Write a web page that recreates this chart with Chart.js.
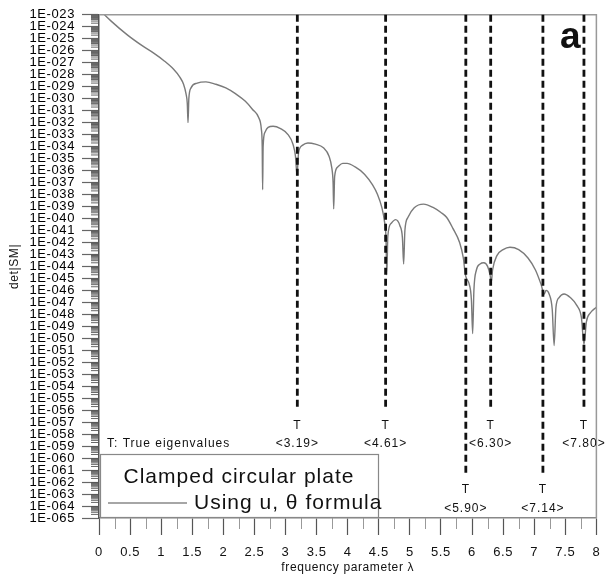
<!DOCTYPE html>
<html>
<head>
<meta charset="utf-8">
<script src="https://cdn.jsdelivr.net/npm/chart.js@4.4.1/dist/chart.umd.min.js"></script>
<style>
  html, body { margin: 0; padding: 0; background: #fff; }
  #wrap { width: 610px; height: 579px; }
</style>
</head>
<body>
<div id="wrap"><canvas id="c" width="610" height="579"></canvas></div>
<script>
// frequency parameter (lambda)
const lambda = [
  0.00, 0.20, 0.46, 0.70, 0.88, 1.05, 1.20, 1.30, 1.36, 1.40, 1.42, 1.432, 1.445, 1.48, 1.58,
  1.72, 1.88, 2.04, 2.20, 2.35, 2.47, 2.57, 2.61, 2.625, 2.632, 2.64, 2.67, 2.72, 2.80, 2.92,
  3.04, 3.12, 3.16, 3.185, 3.21, 3.27, 3.36, 3.48, 3.61, 3.70, 3.745, 3.765, 3.775, 3.79, 3.84,
  3.92, 3.99, 4.12, 4.27, 4.40, 4.48, 4.55, 4.59, 4.615, 4.63, 4.645, 4.70, 4.77, 4.84, 4.88,
  4.90, 4.92, 4.97, 5.07, 5.22, 5.38, 5.50, 5.59, 5.69, 5.80, 5.86, 5.89, 5.91, 5.95, 5.99,
  6.01, 6.03, 6.07, 6.13, 6.19, 6.25, 6.29, 6.31, 6.33, 6.40, 6.50, 6.61, 6.75, 6.90, 7.02,
  7.11, 7.16, 7.19, 7.24, 7.29, 7.32, 7.35, 7.40, 7.48, 7.58, 7.69, 7.76, 7.80, 7.84, 7.90,
  8.00
];
// log10 of det|SM| at each lambda
const logDet = [
  -22.55, -23.55, -24.70, -25.60, -26.20, -26.85, -27.55, -28.20, -28.80, -29.60, -30.40, -32.00, -30.00, -29.10, -28.70,
  -28.60, -28.80, -29.10, -29.60, -30.20, -30.90, -31.60, -32.50, -34.00, -37.60, -34.00, -32.80, -32.40, -32.30, -32.50,
  -33.00, -33.80, -34.80, -36.40, -34.50, -33.90, -33.70, -33.80, -34.10, -34.80, -35.80, -37.00, -39.20, -36.50, -35.70,
  -35.40, -35.40, -35.70, -36.30, -37.20, -38.00, -39.10, -40.20, -41.50, -44.70, -41.50, -40.40, -40.10, -40.60, -41.60,
  -43.80, -41.00, -39.90, -39.10, -38.80, -39.10, -39.50, -39.90, -40.80, -42.00, -43.30, -44.60, -45.00, -45.40, -46.80,
  -49.60, -46.00, -44.30, -43.80, -43.70, -44.00, -44.70, -45.30, -44.30, -43.10, -42.60, -42.40, -42.60, -43.30, -44.30,
  -45.50, -46.30, -46.00, -46.30, -47.60, -50.60, -47.40, -46.60, -46.30, -46.60, -47.30, -48.30, -50.50, -48.60, -47.90,
  -47.40
];

// true eigenvalues (dashed markers)
const eigenValues = [3.19, 4.61, 5.90, 6.30, 7.14, 7.80];
const eigenLabels = ["<3.19>", "<4.61>", "<5.90>", "<6.30>", "<7.14>", "<7.80>"];
const eigenRow = [0, 0, 1, 0, 1, 0]; // 0 = upper label row, 1 = lower row

const xTicks = [0, 0.5, 1, 1.5, 2, 2.5, 3, 3.5, 4, 4.5, 5, 5.5, 6, 6.5, 7, 7.5, 8];
const xTickLabels = ["0", "0.5", "1", "1.5", "2", "2.5", "3", "3.5", "4", "4.5", "5", "5.5", "6", "6.5", "7", "7.5", "8"];
const yExpMin = -65;
const yExpMax = -23;

const FONT = "'Liberation Sans', Arial, sans-serif";

function yLabel(v) {
  return "1E-0" + String(-v).padStart(2, "0");
}

// frame, minor ticks, eigenvalue markers, legend box
const decorations = {
  id: "decorations",
  beforeDraw(chart) {
    chart.ctx.letterSpacing = "0.6px";
  },
  afterDraw(chart) {
    const ctx = chart.ctx;
    const area = chart.chartArea;
    const xs = chart.scales.x;
    const ys = chart.scales.y;
    ctx.save();
    ctx.letterSpacing = "1px";

    // frame
    ctx.strokeStyle = "#999";
    ctx.lineWidth = 1.5;
    ctx.beginPath();
    ctx.moveTo(area.left, area.top);
    ctx.lineTo(area.right, area.top);
    ctx.lineTo(area.right, area.bottom);
    ctx.stroke();

    // minor y ticks (log sub-decades)
    ctx.strokeStyle = "#555";
    ctx.lineWidth = 0.9;
    for (let e = yExpMin; e < yExpMax; e++) {
      for (let k = 2; k <= 9; k++) {
        const y = ys.getPixelForValue(e + Math.log10(k));
        ctx.beginPath();
        ctx.moveTo(area.left - 8, y);
        ctx.lineTo(area.left, y);
        ctx.stroke();
      }
    }
    // minor x ticks
    ctx.strokeStyle = "#999";
    ctx.lineWidth = 1;
    for (let i = 0; i < xTicks.length - 1; i++) {
      const x = Math.round(xs.getPixelForValue((xTicks[i] + xTicks[i + 1]) / 2)) + 0.5;
      ctx.beginPath();
      ctx.moveTo(x, area.bottom);
      ctx.lineTo(x, area.bottom + 11);
      ctx.stroke();
    }

    // dashed eigenvalue lines with labels
    const rows = [
      { end: -56.0, t: -57.3, lab: -58.8 },
      { end: -61.3, t: -62.6, lab: -64.2 }
    ];
    ctx.font = "12px " + FONT;
    ctx.fillStyle = "#111";
    ctx.textAlign = "center";
    ctx.textBaseline = "middle";
    eigenValues.forEach((v, i) => {
      const r = rows[eigenRow[i]];
      const x = xs.getPixelForValue(v);
      ctx.strokeStyle = "#111";
      ctx.lineWidth = 2.8;
      ctx.setLineDash([7, 4]);
      ctx.beginPath();
      ctx.moveTo(x, area.top);
      ctx.lineTo(x, ys.getPixelForValue(r.end));
      ctx.stroke();
      ctx.setLineDash([]);
      ctx.fillText("T", x, ys.getPixelForValue(r.t));
      ctx.fillText(eigenLabels[i], x, ys.getPixelForValue(r.lab));
    });

    ctx.textAlign = "left";
    ctx.fillText("T: True eigenvalues", area.left + 8, ys.getPixelForValue(-58.8));

    // legend box
    const bx = area.left + 1, by = 454, bw = 278, bh = 63;
    ctx.fillStyle = "#fff";
    ctx.fillRect(bx, by, bw, bh);
    ctx.strokeStyle = "#888";
    ctx.lineWidth = 1.2;
    ctx.strokeRect(bx + 0.5, by + 0.5, bw, bh);
    ctx.fillStyle = "#111";
    ctx.font = "21px " + FONT;
    ctx.textAlign = "center";
    ctx.fillText("Clamped circular plate", bx + bw / 2, by + 23);
    ctx.strokeStyle = "#888";
    ctx.lineWidth = 1.3;
    ctx.beginPath();
    ctx.moveTo(bx + 8, by + 49);
    ctx.lineTo(bx + 87, by + 49);
    ctx.stroke();
    ctx.textAlign = "left";
    ctx.fillText("Using u, \u03b8 formula", bx + 94, by + 49);

    // panel letter
    ctx.font = "bold 37px " + FONT;
    ctx.letterSpacing = "0px";
    ctx.textBaseline = "alphabetic";
    ctx.fillText("a", 560, 48);
    ctx.restore();
  }
};

const ctx = document.getElementById("c").getContext("2d");

new Chart(ctx, {
  type: "line",
  data: {
    datasets: [
      {
        data: lambda.map((x, i) => ({ x: x, y: logDet[i] })),
        borderColor: "#7a7a7a",
        borderWidth: 1.4,
        pointRadius: 0,
        cubicInterpolationMode: "monotone",
        fill: false
      }
    ]
  },
  options: {
    responsive: false,
    animation: false,
    layout: { padding: { top: 13, right: 4, left: 0, bottom: 0 } },
    plugins: { legend: { display: false }, tooltip: { enabled: false } },
    scales: {
      x: {
        type: "linear",
        min: 0,
        max: 8,
        afterFit(scale) { scale.height = 61; },
        afterBuildTicks(scale) { scale.ticks = xTicks.map((v) => ({ value: v })); },
        ticks: {
          autoSkip: false,
          maxRotation: 0,
          padding: 10,
          color: "#111",
          font: { family: FONT, size: 13 },
          callback: (v) => xTickLabels[xTicks.indexOf(v)]
        },
        grid: { drawOnChartArea: false, tickLength: 17, tickColor: "#555", tickWidth: 1.2 },
        border: { color: "#888", width: 1.5 },
        title: {
          display: true,
          text: "frequency parameter \u03bb",
          color: "#111",
          font: { family: FONT, size: 12 },
          padding: { top: 0, bottom: 4 }
        }
      },
      y: {
        type: "linear",
        min: yExpMin,
        max: yExpMax,
        afterFit(scale) { scale.width = 99; },
        afterBuildTicks(scale) {
          const t = [];
          for (let e = yExpMin; e <= yExpMax; e++) t.push({ value: e });
          scale.ticks = t;
        },
        ticks: {
          autoSkip: false,
          padding: 7,
          color: "#000",
          font: { family: FONT, size: 13 },
          callback: (v) => yLabel(v)
        },
        grid: { drawOnChartArea: false, tickLength: 17, tickColor: "#666", tickWidth: 1.2 },
        border: { color: "#555", width: 1.5 },
        title: {
          display: true,
          text: "det|SM|",
          color: "#111",
          font: { family: FONT, size: 12 },
          padding: { top: 7, bottom: 0 }
        }
      }
    }
  },
  plugins: [decorations]
});
</script>
</body>
</html>
